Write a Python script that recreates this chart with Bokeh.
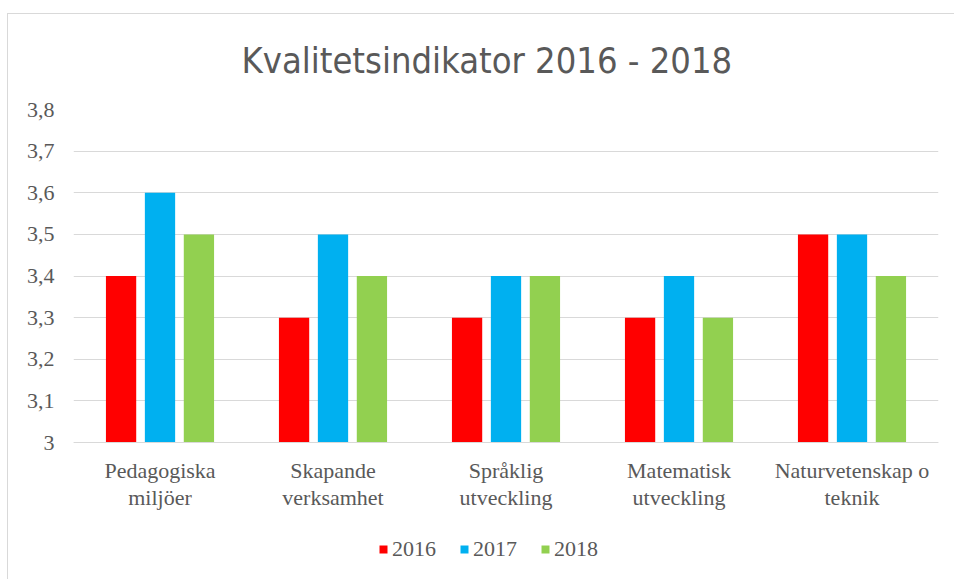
from bokeh.plotting import figure
from bokeh.models import FactorRange, Range1d, FixedTicker, CustomJSTickFormatter, Legend, LegendItem
from bokeh.transform import dodge
from bokeh.embed import file_html
from bokeh.resources import INLINE
from bokeh.models import ColumnDataSource

categories = ["Pedagogiska\nmiljöer", "Skapande\nverksamhet", "Språklig\nutveckling",
              "Matematisk\nutveckling", "Naturvetenskap o\nteknik"]
years = ["2016", "2017", "2018"]
v2016 = [3.4, 3.3, 3.3, 3.3, 3.5]
v2017 = [3.6, 3.5, 3.4, 3.4, 3.5]
v2018 = [3.5, 3.4, 3.4, 3.3, 3.4]
colors = ["#FF0000", "#00B0F0", "#92D050"]
yticks = [3.0, 3.1, 3.2, 3.3, 3.4, 3.5, 3.6, 3.7, 3.8]

src = ColumnDataSource(dict(cat=categories, y2016=v2016, y2017=v2017, y2018=v2018))

W, H = 954, 579
TOP, BASE = 109, 442          # pixel rows of 3.8 and 3.0
per = (BASE - TOP) / 0.8
y_start = 3.0 - (H - BASE) / per

p = figure(x_range=FactorRange(*categories), y_range=Range1d(y_start, 3.8),
           width=W, height=H, output_backend="svg", toolbar_location=None,
           min_border_left=73, min_border_right=16, min_border_top=TOP, min_border_bottom=0)

p.styles = {
    "background-color": "white",
    "background-image": "linear-gradient(#d9d9d9,#d9d9d9), linear-gradient(#d9d9d9,#d9d9d9)",
    "background-size": "1px 100%, 100% 1px",
    "background-position": "7px 13px, 7px 13px",
    "background-repeat": "no-repeat",
}
p.border_fill_color = None
p.background_fill_color = None

p.title.text = "Kvalitetsindikator 2016 - 2018"
p.title.align = "left"
p.title.offset = 168
p.title.text_font = "'Liberation Sans Narrow', 'Arial Narrow', 'DejaVu Sans Condensed', sans-serif"
p.title.text_font_size = "36px"
p.title.text_font_style = "normal"
p.title.text_color = "#595959"
p.title.standoff = 57

offsets = [-0.225, 0.0, 0.225]
renderers = []
for yr, off, col in zip(years, offsets, colors):
    r = p.vbar(x=dodge("cat", off, range=p.x_range), top="y" + yr, bottom=3.0, width=0.175,
               source=src, fill_color=col, line_color=None)
    renderers.append(r)

p.outline_line_color = None
p.xgrid.grid_line_color = None
p.ygrid.grid_line_color = "#d9d9d9"
p.ygrid.grid_line_width = 1

p.yaxis.ticker = FixedTicker(ticks=yticks)
p.yaxis.formatter = CustomJSTickFormatter(code="var s=(Math.round(tick*10)/10).toString(); return s.replace('.', ',');")
p.yaxis.axis_line_color = None
p.yaxis.major_tick_line_color = None
p.yaxis.minor_tick_line_color = None
p.yaxis.major_label_text_font = "Liberation Serif"
p.yaxis.major_label_text_font_size = "22px"
p.yaxis.major_label_text_color = "#595959"
p.yaxis.major_label_standoff = 13

p.xaxis.fixed_location = 3.0
p.xaxis.axis_line_color = "#d9d9d9"
p.xaxis.major_tick_line_color = None
p.xaxis.minor_tick_line_color = None
p.xaxis.major_label_text_font = "Liberation Serif"
p.xaxis.major_label_text_font_size = "22px"
p.xaxis.major_label_text_color = "#595959"
p.xaxis.major_label_text_line_height = 1.1
p.xaxis.major_label_standoff = 9

legend = Legend(items=[LegendItem(label=yr, renderers=[r]) for yr, r in zip(years, renderers)],
                orientation="horizontal", location=(305, 17))
legend.label_text_font = "Liberation Serif"
legend.label_text_font_size = "22px"
legend.label_text_color = "#595959"
legend.glyph_width = 10
legend.glyph_height = 10
legend.label_standoff = 4
legend.spacing = 23
legend.border_line_color = None
legend.background_fill_alpha = 0
legend.margin = 0
legend.padding = 0
p.add_layout(legend, "center")

open("out.html", "w").write(file_html(p, INLINE))
